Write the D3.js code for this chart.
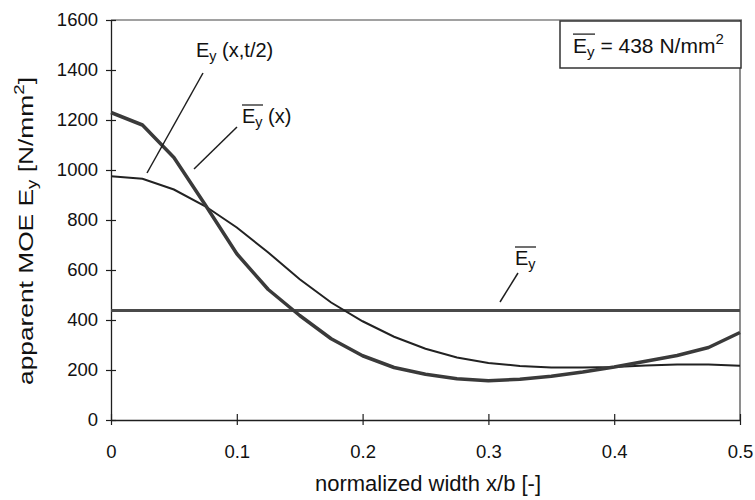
<!DOCTYPE html>
<html>
<head>
<meta charset="utf-8">
<script src="https://cdn.jsdelivr.net/npm/d3@7"></script>
<style>
    body { margin: 0; background: #fff; }
    svg { display: block; font-family: 'Liberation Sans', Arial, sans-serif; }
</style>
</head>
<body>
<svg id="chart" width="755" height="500"></svg>
<script>
// normalized width positions x/b
const widthPos = [0, 0.025, 0.05, 0.075, 0.1, 0.125, 0.15, 0.175, 0.2, 0.225, 0.25,
    0.275, 0.3, 0.325, 0.35, 0.375, 0.4, 0.425, 0.45, 0.475, 0.5];

// E_y(x, t/2) - thick curve
const eyMid = [1230, 1180, 1050, 860, 665, 522, 418, 325, 257, 210, 183,
    165, 157, 163, 175, 192, 212, 235, 258, 290, 350];

// mean E_y(x) over thickness - thin curve
const eyMean = [975, 965, 922, 855, 770, 670, 563, 470, 395, 333, 285,
    250, 228, 216, 210, 210, 212, 218, 222, 222, 217];

// overall mean
const eyAll = 438;

const xTicks = [0, 0.1, 0.2, 0.3, 0.4, 0.5];
const yTicks = [0, 200, 400, 600, 800, 1000, 1200, 1400, 1600];

const svg = d3.select('#chart');

const x = d3.scaleLinear().domain([0, 0.5]).range([111, 740]);
const y = d3.scaleLinear().domain([0, 1600]).range([420, 20]);

const ink = '#1e1e1e';

//--------------------------------------------------FRAME
svg.append('path')
    .attr('d', `M${x(0)},${y(1600)}H${x(0.5) + 2}M${x(0.5)},${y(1600)}V${y(0)}`)
    .attr('fill', 'none')
    .attr('stroke', '#444')
    .attr('stroke-width', 1.2);

//--------------------------------------------------AXES
const yAxis = svg.append('g')
    .attr('transform', `translate(${x(0)},0)`)
    .call(d3.axisLeft(y).tickValues(yTicks).tickSizeInner(5).tickSizeOuter(0).tickPadding(8)
        .tickFormat(d3.format('d')));

yAxis.selectAll('.tick line').attr('x1', 5);

const xAxis = svg.append('g')
    .attr('transform', `translate(0,${y(0)})`)
    .call(d3.axisBottom(x).tickValues(xTicks).tickSizeInner(5).tickSizeOuter(0).tickPadding(20)
        .tickFormat((d) => d === 0 ? '0' : d3.format('.1f')(d)));

xAxis.selectAll('.tick line').attr('y1', -6);

[yAxis, xAxis].forEach((ax) => {
    ax.select('.domain').attr('stroke', ink).attr('stroke-width', 1.3);
    ax.selectAll('.tick line').attr('stroke', ink).attr('stroke-width', 1.2);
    ax.selectAll('.tick text')
        .style('font-size', '18.5px')
        .style('font-family', "'Liberation Sans', Arial, sans-serif")
        .attr('fill', '#111');
});

//--------------------------------------------------AXIS TITLES
svg.append('text')
    .attr('x', 428)
    .attr('y', 491)
    .style('text-anchor', 'middle')
    .style('font-size', '22px')
    .attr('textLength', 226)
    .attr('lengthAdjust', 'spacingAndGlyphs')
    .attr('fill', '#111')
    .text('normalized width x/b [-]');

const yTitle = svg.append('text')
    .attr('transform', 'translate(33, 231) rotate(-90)')
    .style('text-anchor', 'middle')
    .style('font-size', '21px')
    .attr('textLength', 308)
    .attr('lengthAdjust', 'spacingAndGlyphs')
    .attr('fill', '#111');

yTitle.append('tspan').text('apparent MOE E');
yTitle.append('tspan').attr('dy', 4).style('font-size', '15px').text('y');
yTitle.append('tspan').attr('dy', -4).text(' [N/mm');
yTitle.append('tspan').attr('dy', -9).style('font-size', '15px').text('2');
yTitle.append('tspan').attr('dy', 9).text(']');

//--------------------------------------------------CURVES
const line = d3.line()
    .x((d) => x(d[0]))
    .y((d) => y(d[1]));

svg.append('line')
    .attr('class', 'meanLine')
    .attr('x1', x(0))
    .attr('x2', x(0.5))
    .attr('y1', y(eyAll))
    .attr('y2', y(eyAll))
    .attr('stroke', '#4a4a4a')
    .attr('stroke-width', 3);

svg.append('path')
    .datum(widthPos.map((p, i) => [p, eyMean[i]]))
    .attr('class', 'eyMean')
    .attr('d', line)
    .attr('fill', 'none')
    .attr('stroke', '#222')
    .attr('stroke-width', 2);

svg.append('path')
    .datum(widthPos.map((p, i) => [p, eyMid[i]]))
    .attr('class', 'eyMid')
    .attr('d', line)
    .attr('fill', 'none')
    .attr('stroke', '#3a3a3a')
    .attr('stroke-width', 3.5)
    .attr('stroke-linejoin', 'round');

//--------------------------------------------------LABELS
// E with subscript y, optional bar on top, optional trailing text
const eyLabel = (px, py, bar, rest, size) => {
    const g = svg.append('g').attr('transform', `translate(${px},${py})`);
    const t = g.append('text')
        .style('font-size', `${size}px`)
        .attr('fill', '#111');
    t.append('tspan').text('E');
    t.append('tspan').attr('dy', 4).style('font-size', `${size * 0.72}px`).text('y');
    if (rest) t.append('tspan').attr('dy', -4).text(rest);

    if (bar) {
        g.append('line')
            .attr('x1', 0)
            .attr('x2', size + 1)
            .attr('y1', -size * 0.9)
            .attr('y2', -size * 0.9)
            .attr('stroke', '#111')
            .attr('stroke-width', 1.2);
    }
    return t;
};

const leaders = [
    [203, 73, 147, 173],
    [237, 127, 194, 169],
    [518, 273, 500, 302]
];

svg.selectAll('.leader')
    .data(leaders)
    .enter().append('line')
    .attr('class', 'leader')
    .attr('x1', (d) => d[0])
    .attr('y1', (d) => d[1])
    .attr('x2', (d) => d[2])
    .attr('y2', (d) => d[3])
    .attr('stroke', ink)
    .attr('stroke-width', 1.5);

eyLabel(196, 57, false, ' (x,t/2)', 20);
eyLabel(242, 123, true, ' (x)', 20);
eyLabel(515, 265, true, null, 20);

//--------------------------------------------------BOX
svg.append('rect')
    .attr('x', 560)
    .attr('y', 21)
    .attr('width', 181)
    .attr('height', 47)
    .attr('fill', '#fff')
    .attr('stroke', '#333')
    .attr('stroke-width', 1.5);

const boxText = eyLabel(573, 53, true, null, 21);
boxText.append('tspan').attr('dy', -4).text(' = ' + eyAll + ' N/mm');
boxText.append('tspan').attr('dy', -9).style('font-size', '15px').text('2');
</script>
</body>
</html>
